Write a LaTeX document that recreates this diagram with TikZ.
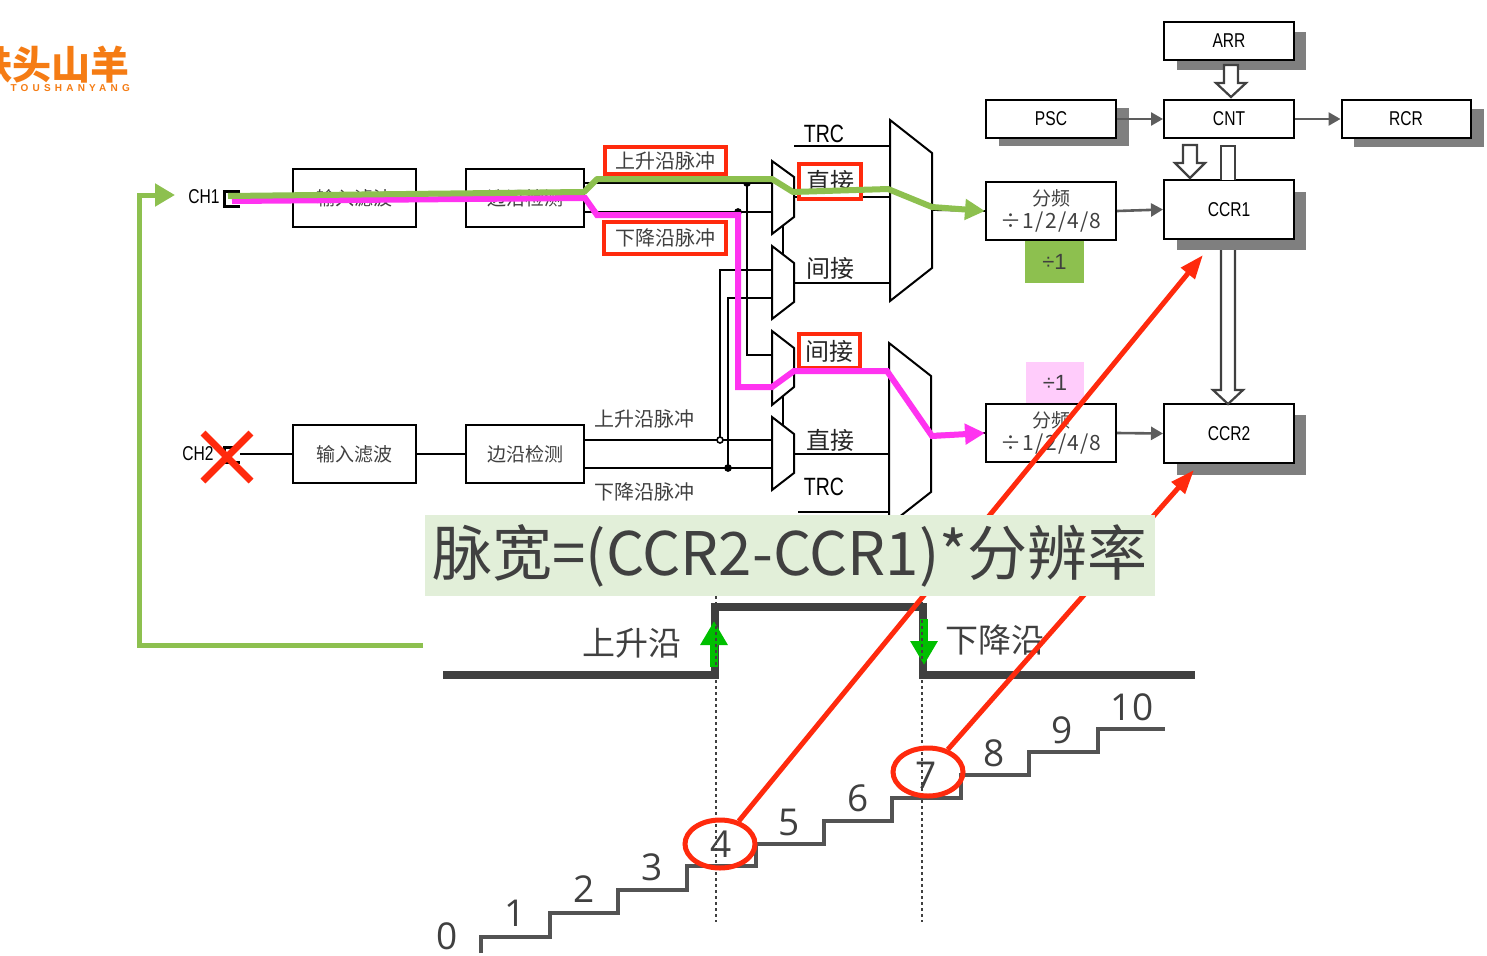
\documentclass[tikz,border=0pt]{standalone}
\usepackage{fontspec}
\usetikzlibrary{arrows.meta,shapes.geometric}
\setmainfont{Liberation Sans}
\newfontfamily\cjkf{Noto Sans CJK SC}
\newfontfamily\narrowf[FakeStretch=0.78]{Liberation Sans}
\newfontfamily\digitf{Open Sans}
\definecolor{dk}{HTML}{404040}
\definecolor{shad}{HTML}{7F7F7F}
\definecolor{grn}{HTML}{8DC04F}
\definecolor{mag}{HTML}{FF33F0}
\definecolor{redc}{HTML}{FF2A0D}
\definecolor{org}{HTML}{F57C14}
\definecolor{bannerc}{HTML}{E2EFD9}
\tikzset{
  box/.style={draw=black,line width=2pt,fill=white,inner sep=0pt,font=\narrowf\fontsize{20}{22}\selectfont},
  cnbox/.style={draw=black,line width=2pt,fill=white,inner sep=0pt,font=\cjkf\fontsize{19}{22}\selectfont,text=dk},
  shadowr/.style={fill=shad,draw=none},
  wire/.style={draw=black,line width=1.8pt},
  gwire/.style={draw=dk!85,line width=2.6pt,-{Triangle[length=12pt,width=13pt]}},
  hollow/.style={draw=dk,line width=2.2pt,fill=white,line join=miter},
  muxs/.style={draw=black,line width=2pt,fill=white,line join=miter},
  cnlab/.style={font=\cjkf\fontsize{20}{22}\selectfont,text=dk,inner sep=0pt},
  bigcn/.style={font=\cjkf\fontsize{26}{28}\selectfont,text=black!85,inner sep=0pt},
  trc/.style={font=\narrowf\fontsize{25}{27}\selectfont,inner sep=0pt},
  chl/.style={font=\narrowf\fontsize{20}{22}\selectfont,inner sep=0pt},
  redbox/.style={draw=redc,line width=4pt,fill=white,inner sep=0pt},
  pathg/.style={draw=grn,line width=6pt,line join=round},
  pathm/.style={draw=mag,line width=6pt,line join=miter},
  headg/.style={-{Triangle[length=20pt,width=20pt]}},
  redl/.style={draw=redc,line width=5pt,-{Triangle[length=24pt,width=17pt]}},
  num/.style={font=\digitf\fontsize{37}{40}\selectfont,text=dk,inner sep=0pt},
  sig/.style={draw=dk,line width=8pt,line join=miter},
  stair/.style={draw=dk!90,line width=4pt,line join=miter},
  dots/.style={draw=dk,line width=2.4pt,dash pattern=on 3pt off 3pt},
  dotn/.style={circle,draw=black,line width=1.6pt,inner sep=0pt,minimum size=6pt}
}
\begin{document}
\begin{tikzpicture}[x=1pt,y=-1pt]
\useasboundingbox (0,0) rectangle (1487,955);
\fill[white] (0,0) rectangle (1487,955);
% logo
\begin{scope}
\clip (0,30) rectangle (160,110);
\node[anchor=east,font=\cjkf\bfseries\fontsize{39}{40}\selectfont,text=org,inner sep=0pt] (logo) at (130,65) {铁头山羊};
\node[anchor=east,font=\fontsize{10}{12}\selectfont\bfseries,text=org,inner sep=0pt] (logot) at (130,88) {\addfontfeature{LetterSpace=42}TOUSHANYANG};
\end{scope}
% shadows
\fill[shadowr] (1177,32) rectangle (1306,70);
\fill[shadowr] (999,108) rectangle (1129,146);
\fill[shadowr] (1354,109) rectangle (1484,147);
\fill[shadowr] (1177,192) rectangle (1306,250);
\fill[shadowr] (1177,415) rectangle (1306,475);
% right boxes
\node[box,minimum width=130pt,minimum height=38pt] (arr) at (1229,41) {ARR};
\node[box,minimum width=130pt,minimum height=38pt] (cnt) at (1229,119) {CNT};
\node[box,minimum width=130pt,minimum height=38pt] (psc) at (1051,119) {PSC};
\node[box,minimum width=129pt,minimum height=38pt] (rcr) at (1406,119) {RCR};
\node[box,minimum width=130pt,minimum height=59pt] (ccr1) at (1229,209.5) {CCR1};
\node[box,minimum width=130pt,minimum height=59pt] (ccr2) at (1229,433.5) {CCR2};
\node[cnbox,minimum width=130pt,minimum height=58pt,align=center] (div1) at (1051,211) {分频\\[1pt]{\fontsize{21}{23}\selectfont\addfontfeature{LetterSpace=6}÷1/2/4/8}};
\node[cnbox,minimum width=130pt,minimum height=58pt,align=center] (div2) at (1051,433) {分频\\[1pt]{\fontsize{21}{23}\selectfont\addfontfeature{LetterSpace=6}÷1/2/4/8}};
\node[draw=none,fill=grn,minimum width=59pt,minimum height=42pt,inner sep=0pt,font=\fontsize{22}{24}\selectfont,text=dk] (d1g) at (1054.5,262) {÷1};
\node[draw=none,fill=mag!25,minimum width=58pt,minimum height=41pt,inner sep=0pt,font=\fontsize{22}{24}\selectfont,text=dk] (d1m) at (1055,382.5) {÷1};
% grey connectors
\draw[gwire] (psc.east) -- (cnt.west);
\draw[gwire] (cnt.east) -- (rcr.west);
\draw[gwire] (div1.east) -- (ccr1.west);
\draw[gwire] (div2.east) -- (ccr2.west);
% hollow arrows
\draw[hollow] (1224,65) -- (1238,65) -- (1238,83) -- (1246,83) -- (1231,97) -- (1216,83) -- (1224,83) -- cycle;
\draw[hollow] (1183,145) -- (1197,145) -- (1197,163) -- (1205,163) -- (1190,178) -- (1175,163) -- (1183,163) -- cycle;
\draw[hollow] (1221,180) -- (1221,146) -- (1235,146) -- (1235,180);
\draw[hollow] (1221,250) -- (1221,390) -- (1213,390) -- (1228,404) -- (1243,390) -- (1235,390) -- (1235,250);
% inputs
\node[chl] (ch1) at (204,197) {CH1};
\node[chl] (ch2) at (198,454) {CH2};
\coordinate (pin1) at (240,198);
\coordinate (pin2) at (240,454);
\draw[line width=3pt,black] (240,191) -- (224,191) -- (224,206) -- (240,206);
\draw[line width=3pt,black] (240,447) -- (224,447) -- (224,462) -- (240,462);
\node[cnbox,minimum width=123pt,minimum height=58pt] (f1) at (354.5,198) {输入滤波};
\node[cnbox,minimum width=118pt,minimum height=58pt] (e1) at (525,198) {边沿检测};
\node[cnbox,minimum width=123pt,minimum height=58pt] (f2) at (354.5,454) {输入滤波};
\node[cnbox,minimum width=118pt,minimum height=58pt] (e2) at (525,454) {边沿检测};
\draw[wire] (pin1) -- (f1.west);
\draw[wire] (f1.east) -- (e1.west);
\draw[wire] (pin2) -- (f2.west);
\draw[wire] (f2.east) -- (e2.west);
% signal wires
\coordinate (r1) at (584,183);
\coordinate (r2) at (584,212);
\coordinate (r3) at (584,440);
\coordinate (r4) at (584,468);
\coordinate (j1) at (747,183);
\coordinate (j2) at (738,212);
\coordinate (j3) at (720,440);
\coordinate (j4) at (728,468);
\draw[wire] (r1) -- (772,183);
\draw[wire] (r2) -- (772,212);
\draw[wire] (r3) -- (772,440);
\draw[wire] (r4) -- (772,468);
\draw[wire] (j1) -- (747,355) -- (772,355);
\draw[wire] (j2) -- (738,387) -- (772,387);
\draw[wire] (j3) -- (720,270) -- (772,270);
\draw[wire] (j4) -- (728,298) -- (772,298);
\draw[wire] (783,225) -- (783,255);
\draw[wire] (783,396) -- (783,426);
% outgoing wires
\draw[wire] (794,146) -- (890,146);
\draw[wire] (794,197) -- (890,197);
\draw[wire] (794,283) -- (890,283);
\draw[wire] (794,370) -- (890,370);
\draw[wire] (794,454) -- (890,454);
\draw[wire] (798,512) -- (890,512);
\draw[wire] (932,210) -- (div1.west);
\draw[wire] (931,434) -- (div2.west);
% muxes
\draw[muxs] (772,161) -- (794,177) -- (794,217) -- (772,234) -- cycle;
\draw[muxs] (772,246) -- (794,263) -- (794,302) -- (772,319) -- cycle;
\draw[muxs] (772,331) -- (794,348) -- (794,387) -- (772,405) -- cycle;
\draw[muxs] (772,417) -- (794,434) -- (794,473) -- (772,490) -- cycle;
\draw[muxs] (890,120) -- (932,153) -- (932,268) -- (890,301) -- cycle;
\draw[muxs] (889,343) -- (931,376) -- (931,492) -- (889,525) -- cycle;
% dots
\node[dotn,fill=black] (dj1) at (j1) {};
\node[dotn,fill=black] (dj2) at (j2) {};
\node[dotn,fill=white] (dj3) at (j3) {};
\node[dotn,fill=black] (dj4) at (j4) {};
% labels
\node[trc] (t1) at (824,134) {TRC};
\node[trc] (t2) at (824,487) {TRC};
\node[redbox,font=\cjkf\fontsize{24}{26}\selectfont,text=black!85,minimum width=62pt,minimum height=35pt] (z1) at (830,181.5) {直接};
\node[redbox,font=\cjkf\fontsize{24}{26}\selectfont,text=black!85,minimum width=61pt,minimum height=34pt] (j1l) at (829.5,351) {间接};
\node[bigcn,font=\cjkf\fontsize{24}{26}\selectfont] (j2l) at (830,268) {间接};
\node[bigcn,font=\cjkf\fontsize{24}{26}\selectfont] (z2) at (830,440) {直接};
\node[redbox,font=\cjkf\fontsize{20}{22}\selectfont,text=dk,minimum width=121pt,minimum height=27pt] (ru) at (665.5,160.5) {上升沿脉冲};
\node[redbox,font=\cjkf\fontsize{20}{22}\selectfont,text=dk,minimum width=122pt,minimum height=32pt] (rd) at (665,238) {下降沿脉冲};
\node[cnlab] (lu) at (644,419) {上升沿脉冲};
\node[cnlab] (ld) at (644,492) {下降沿脉冲};
% coloured routes
\coordinate (gs) at (228,196);
\coordinate (ms) at (232,201);
\draw[pathm,-{Triangle[length=20pt,width=20pt]}] (ms) -- (585,198) -- (597,215) -- (738,215) -- (738,387) -- (772,387) -- (794,371) -- (887,371) -- (932,436) -- (div2.west);
\draw[pathg,headg] (gs) -- (584,192) -- (597,179) -- (772,179) -- (793,192) -- (888,189) -- (932,207) -- (div1.west);
\coordinate (fbs) at (423,645);
\draw[draw=grn,line width=5pt,line join=miter,-{Triangle[length=20pt,width=22pt]}] (fbs) -- (139,645) -- (139,195) -- (175,195);
% cross
\draw[redc,line width=7pt] (203,433) -- (251,481);
\draw[redc,line width=7pt] (251,433) -- (203,481);
% waveform
\coordinate (wa) at (443,675);
\coordinate (wb) at (1195,675);
\draw[sig] (wa) -- (715,675) -- (715,607) -- (923,607) -- (923,675) -- (wb);
\draw[line width=8pt,draw=green!75!black,-{Triangle[length=24pt,width=26pt]}] (714,667) -- (714,621);
\draw[line width=8pt,draw=green!75!black,-{Triangle[length=24pt,width=26pt]}] (924,619) -- (924,665);
\node[font=\cjkf\fontsize{33}{35}\selectfont,text=dk,inner sep=0pt] (su) at (632,643) {上升沿};
\node[font=\cjkf\fontsize{33}{35}\selectfont,text=dk,inner sep=0pt] (sd) at (995,640) {下降沿};
\draw[dots] (716,596) -- (716,922);
\draw[dots] (922,596) -- (922,922);
% stairs
\draw[stair] (481,953) -- (481,937) -- (550,937) -- (550,913) -- (618,913) -- (618,890) -- (687,890) -- (687,866) -- (756,866) -- (756,844) -- (824,844) -- (824,821) -- (892,821) -- (892,798) -- (961,798) -- (961,775) -- (1029,775) -- (1029,752) -- (1098,752) -- (1098,729) -- (1165,729);
\node[num] (n0) at (447,936) {0};
\node[num] (n1) at (515,913) {1};
\node[num] (n2) at (584,889) {2};
\node[num] (n3) at (652,867) {3};
\node[num] (n4) at (721,844) {4};
\node[num] (n5) at (789,822) {5};
\node[num] (n6) at (858,798) {6};
\node[num] (n7) at (926,775) {7};
\node[num] (n8) at (994,753) {8};
\node[num] (n9) at (1062,730) {9};
\node[num] (n10) at (1132,707) {10};
% red ellipses and arrows
\node[ellipse,draw=redc,line width=5pt,minimum width=70pt,minimum height=48pt,inner sep=0pt] (c4) at (720,844) {};
\node[ellipse,draw=redc,line width=5pt,minimum width=70pt,minimum height=48pt,inner sep=0pt] (c7) at (928,772) {};
\coordinate (t4) at (1203,255);
\coordinate (t7) at (1194,470);
\draw[redl] (c4) -- (t4);
\draw[redl] (c7) -- (t7);
% banner
\node[fill=bannerc,minimum width=730pt,minimum height=81pt,inner sep=0pt,text=dk,font=\cjkf\fontsize{60}{64}\selectfont] (banner) at (790,555.5) {脉宽=(CCR2-CCR1)*分辨率};
\end{tikzpicture}
\end{document}
